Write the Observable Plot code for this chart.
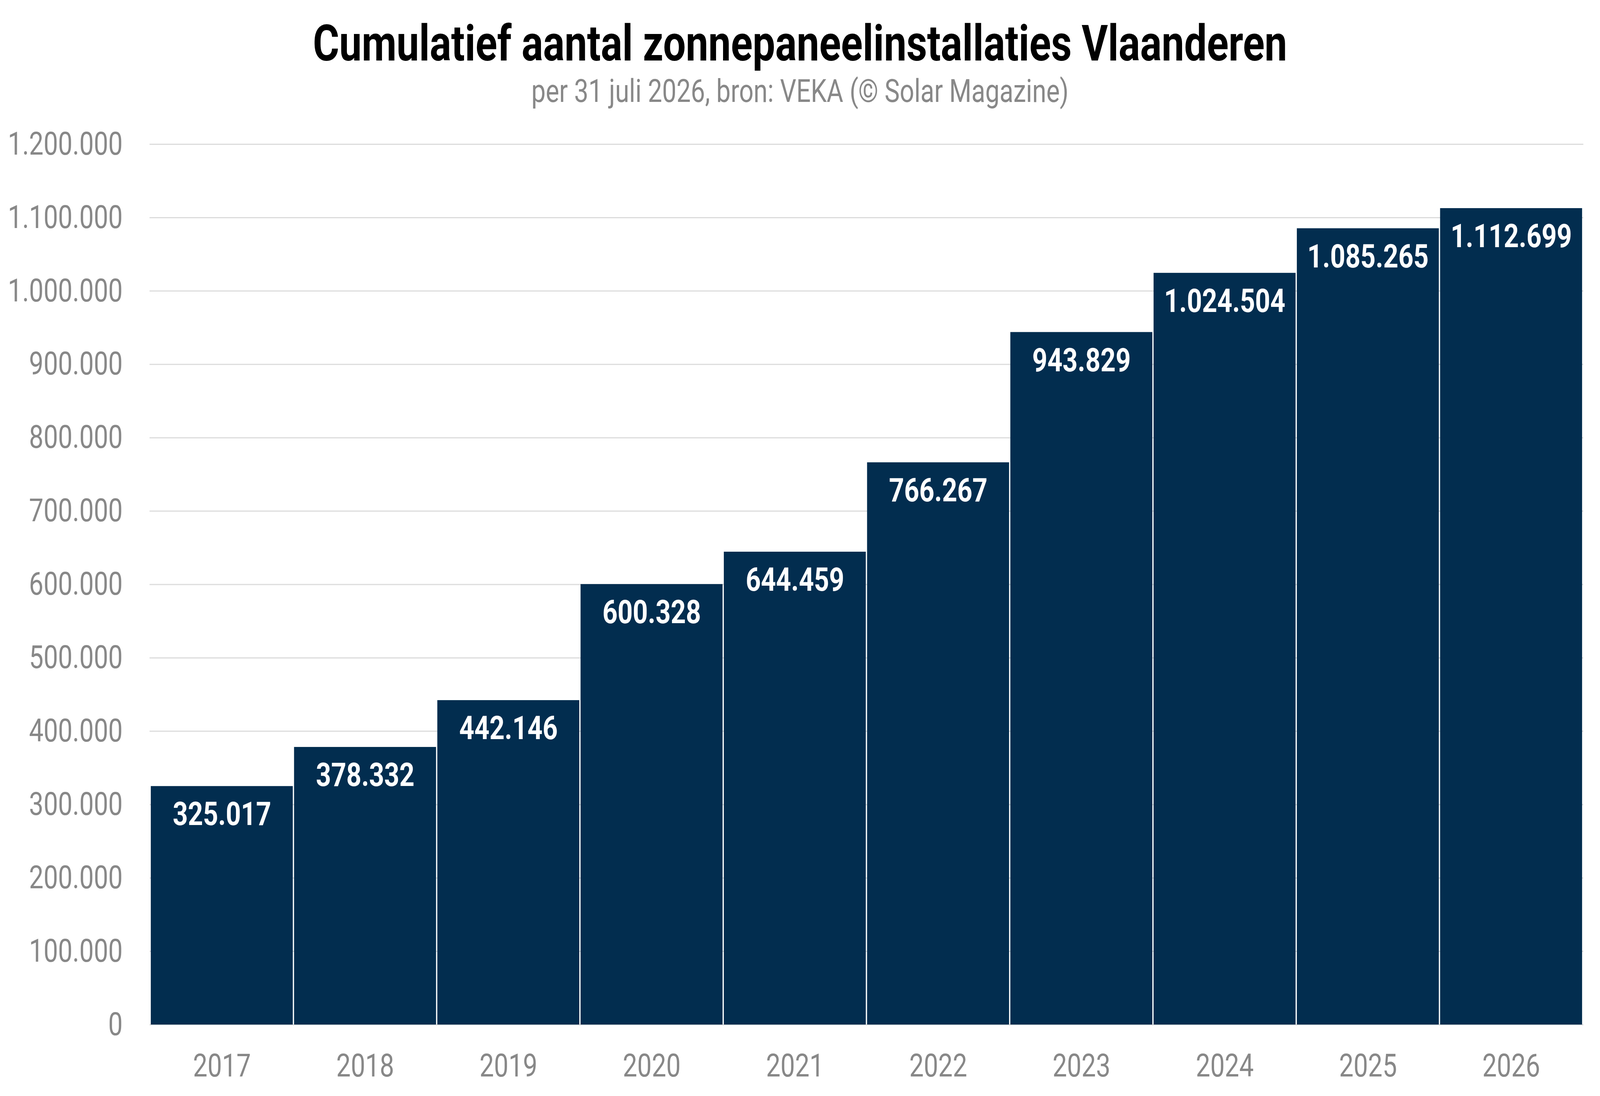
<!DOCTYPE html>
<html>
<head>
<meta charset="utf-8">
<script src="https://cdn.jsdelivr.net/npm/d3@7"></script>
<script src="https://cdn.jsdelivr.net/npm/@observablehq/plot@0.6"></script>
<style>
  html, body { margin: 0; padding: 0; background: #ffffff; overflow: hidden; }
  body { font-family: Roboto, "Noto Sans", sans-serif; }
  #page { width: 5093px; height: 2807px; transform-origin: 0 0; background: #ffffff; }
  #title { font-size: 128px; font-weight: 700; color: #000; text-align: center; line-height: 222px; height: 222px; white-space: nowrap; }
  #subtitle { font-size: 81px; font-weight: 400; color: #888888; text-align: center; line-height: 100px; height: 100px; margin-top: -38px; white-space: nowrap; }
  #chart svg { display: block; }
</style>
</head>
<body>
<div id="page">
  <div id="title">Cumulatief aantal zonnepaneelinstallaties Vlaanderen</div>
  <div id="subtitle">per 31 juli 2026, bron: VEKA (© Solar Magazine)</div>
  <div id="chart"></div>
</div>
<script>
const years = ["2017", "2018", "2019", "2020", "2021", "2022", "2023", "2024", "2025", "2026"];
const installations = [325017, 378332, 442146, 600328, 644459, 766267, 943829, 1024504, 1085265, 1112699];
const yTicks = [0, 100000, 200000, 300000, 400000, 500000, 600000, 700000, 800000, 900000, 1000000, 1100000, 1200000];

const nl = d3.formatLocale({decimal: ",", thousands: ".", grouping: [3], currency: ["€", ""]});
const fmt = nl.format(",d");

const data = years.map((year, i) => ({year, value: installations[i]}));

const chart = Plot.plot({
  width: 5093,
  height: 2523,
  marginTop: 85,
  marginBottom: 183,
  marginLeft: 476,
  marginRight: 53,
  style: {fontFamily: "Roboto, 'Noto Sans', sans-serif", fontSize: "82px", color: "#888888", background: "#ffffff"},
  x: {domain: years, padding: 0, label: null},
  y: {domain: [0, 1200000], label: null},
  marks: [
    Plot.gridY(yTicks, {stroke: "#dcdcdc", strokeOpacity: 1, strokeWidth: 3}),
    Plot.barY(data, {x: "year", y: "value", fill: "#022d4f", insetLeft: 2, insetRight: 2}),
    Plot.text(data, {x: "year", y: "value", text: d => fmt(d.value), fill: "#ffffff", fontWeight: 700, fontSize: 84, lineAnchor: "top", dy: 40}),
    Plot.axisY({ticks: yTicks, tickFormat: fmt, tickSize: 0, tickPadding: 86, label: null, fill: "#888888", fontSize: 82}),
    Plot.axisX({tickSize: 0, tickPadding: 74, label: null, fill: "#888888", fontSize: 82})
  ]
});
document.getElementById("chart").appendChild(chart);

// The design is laid out in the reference's 5093x2807 pixels; fit it to the actual viewport.
const sx = (window.innerWidth || 5093) / 5093;
const sy = (window.innerHeight || 2807) / 2807;
document.getElementById("page").style.transform = `scale(${sx}, ${sy})`;
</script>
</body>
</html>
